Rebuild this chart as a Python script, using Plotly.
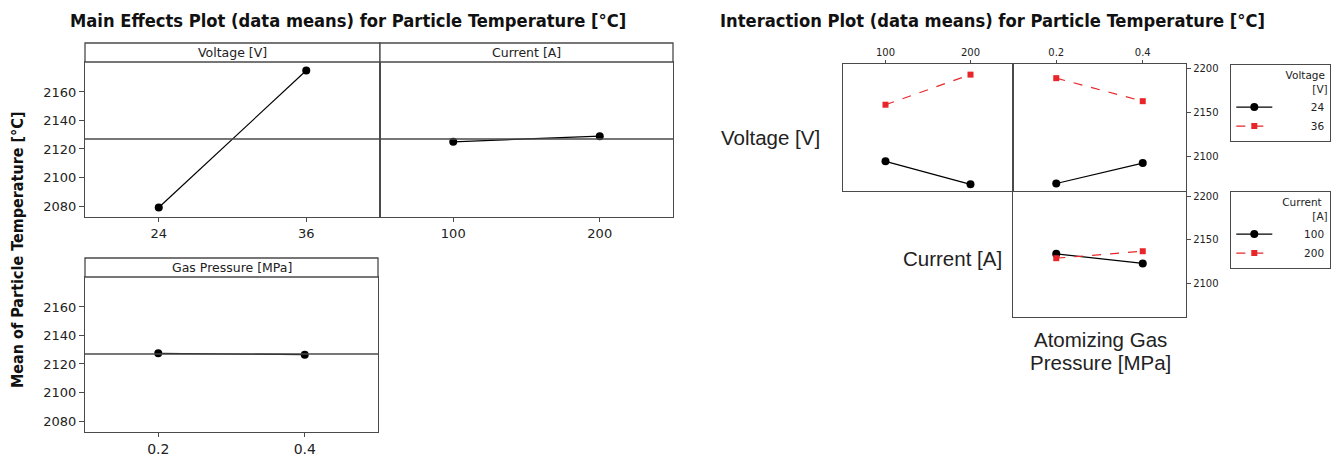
import plotly.graph_objects as go

W, H = 1340, 459

# ---------------- data ----------------
volt_levels = ["24", "36"]
volt_means = [2079, 2175]
curr_levels = ["100", "200"]
curr_means = [2125, 2129]
pres_levels = ["0.2", "0.4"]
pres_means = [2127.5, 2126.5]

main_yticks = [2080, 2100, 2120, 2140, 2160]
inter_yticks = [2100, 2150, 2200]

# interaction means
vc_24 = [2095, 2069]   # voltage 24 over current 100, 200
vc_36 = [2159, 2193]   # voltage 36 over current 100, 200
vp_24 = [2070, 2093]   # voltage 24 over pressure 0.2, 0.4
vp_36 = [2189, 2163]
cp_100 = [2134, 2123]  # current 100 over pressure 0.2, 0.4
cp_200 = [2129, 2137]

grand_mean = sum(volt_means) / len(volt_means)

# ---------------- style ----------------
FRAME = "#4a4a4a"
RED = "#e8262a"
TICKF = "DejaVu Sans, sans-serif"
BOLDF = "DejaVu Sans Condensed, DejaVu Sans, sans-serif"
ARIAL = "Liberation Sans, Arial, sans-serif"
NB = "\u00a0"


def dx(a, b):
    return [a / W, b / W]


def dy(top, bottom):
    return [1 - bottom / H, 1 - top / H]


def legend_label(s, width=7):
    # right-align legend entries using figure spaces (digit width)
    return "\u2007" * (width - len(s)) + s


fig = go.Figure()

# main effects panels
main_kw = dict(mode="lines+markers", line=dict(color="black", width=1.2),
               marker=dict(color="black", size=8), showlegend=False)
fig.add_trace(go.Scatter(x=volt_levels, y=volt_means, xaxis="x", yaxis="y", **main_kw))
fig.add_trace(go.Scatter(x=curr_levels, y=curr_means, xaxis="x2", yaxis="y2", **main_kw))
fig.add_trace(go.Scatter(x=pres_levels, y=pres_means, xaxis="x3", yaxis="y3", **main_kw))

# interaction panels
black_kw = dict(mode="lines+markers", line=dict(color="black", width=1.2),
                marker=dict(color="black", size=8, symbol="circle"))
red_kw = dict(mode="lines+markers", line=dict(color=RED, width=1.2, dash="dash"),
              marker=dict(color=RED, size=6, symbol="square"))

fig.add_trace(go.Scatter(x=curr_levels, y=vc_24, name=legend_label(volt_levels[0]),
                         xaxis="x4", yaxis="y4", legend="legend", **black_kw))
fig.add_trace(go.Scatter(x=curr_levels, y=vc_36, name=legend_label(volt_levels[1]),
                         xaxis="x4", yaxis="y4", legend="legend", **red_kw))
fig.add_trace(go.Scatter(x=pres_levels, y=vp_24, name=volt_levels[0], xaxis="x5", yaxis="y5",
                         showlegend=False, **black_kw))
fig.add_trace(go.Scatter(x=pres_levels, y=vp_36, name=volt_levels[1], xaxis="x5", yaxis="y5",
                         showlegend=False, **red_kw))
fig.add_trace(go.Scatter(x=pres_levels, y=cp_100, name=legend_label(curr_levels[0]),
                         xaxis="x6", yaxis="y6", legend="legend2", **black_kw))
fig.add_trace(go.Scatter(x=pres_levels, y=cp_200, name=legend_label(curr_levels[1]),
                         xaxis="x6", yaxis="y6", legend="legend2", **red_kw))

main_yrange = [2072.3, 2181]
inter_yrange = [2061.5, 2205]

frame = dict(showline=True, mirror=True, linecolor=FRAME, linewidth=1.3,
             showgrid=False, zeroline=False)

xmain = dict(type="category", range=[-0.5, 1.5], ticks="outside", ticklen=4,
             tickcolor=FRAME, tickfont=dict(family=TICKF, size=13, color="#222"),
             **frame)
ymain = dict(range=main_yrange, tickvals=main_yticks, ticks="outside", ticklen=5,
             tickcolor=FRAME, tickfont=dict(family=TICKF, size=13, color="#222"),
             **frame)

layout = dict(
    width=W, height=H,
    margin=dict(l=0, r=0, t=0, b=0, autoexpand=False),
    paper_bgcolor="white", plot_bgcolor="white",
    xaxis=dict(domain=dx(85, 380), anchor="y", **xmain),
    yaxis=dict(domain=dy(62, 217), anchor="x", **ymain),
    xaxis2=dict(domain=dx(380, 673), anchor="y2", **xmain),
    yaxis2=dict(domain=dy(62, 217), anchor="x2",
                **{**ymain, "showticklabels": False, "ticks": ""}),
    xaxis3=dict(domain=dx(85, 378), anchor="y3",
                **{**xmain, "tickfont": dict(family=TICKF, size=14, color="#222")}),
    yaxis3=dict(domain=dy(277, 432), anchor="x3", **ymain),
)

xint = dict(type="category", range=[-0.5, 1.5], ticks="outside", ticklen=3,
            tickcolor=FRAME, tickfont=dict(family=TICKF, size=10, color="#222"),
            **frame)
yint = dict(range=inter_yrange, tickvals=inter_yticks, ticks="outside", ticklen=4,
            tickcolor=FRAME, tickfont=dict(family=TICKF, size=10, color="#222"),
            **frame)

layout.update(
    xaxis4=dict(domain=dx(843, 1013), anchor="y4", side="top", **xint),
    yaxis4=dict(domain=dy(64, 191), anchor="x4",
                **{**yint, "showticklabels": False, "ticks": ""}),
    xaxis5=dict(domain=dx(1013, 1186), anchor="y5", side="top", **xint),
    yaxis5=dict(domain=dy(64, 191), anchor="x5", side="right", **yint),
    xaxis6=dict(domain=dx(1013, 1186), anchor="y6",
                **{**xint, "showticklabels": False, "ticks": ""}),
    yaxis6=dict(domain=dy(192, 317), anchor="x6", side="right", **yint),
)

leg_common = dict(xanchor="left", yanchor="top", bgcolor="white",
                  bordercolor=FRAME, borderwidth=1.3,
                  font=dict(family=TICKF, size=10.5, color="#222"),
                  itemwidth=36, tracegroupgap=0)
layout["legend"] = dict(x=1230 / W, y=1 - 64 / H,
                        title=dict(text="Voltage<br>" + NB * 8 + "[V]", side="top right",
                                   font=dict(family=TICKF, size=10.5)),
                        **leg_common)
layout["legend2"] = dict(x=1230 / W, y=1 - 191 / H,
                         title=dict(text="Current<br>" + NB * 9 + "[A]", side="top right",
                                    font=dict(family=TICKF, size=10.5)),
                         **leg_common)

fig.update_layout(**layout)

# strips above main effects panels and grand-mean reference lines
strip_h = 19 / 155
for ax, label in [("x", "Voltage [V]"), ("x2", "Current [A]"), ("x3", "Gas Pressure [MPa]")]:
    yax = "y" if ax == "x" else "y" + ax[1:]
    fig.add_shape(type="rect", xref=f"{ax} domain", yref=f"{yax} domain",
                  x0=0, x1=1, y0=1, y1=1 + strip_h,
                  line=dict(color=FRAME, width=1.3), fillcolor="white")
    fig.add_annotation(text=label, xref=f"{ax} domain", yref=f"{yax} domain",
                       x=0.5, y=1 + strip_h / 2, xanchor="center", yanchor="middle",
                       showarrow=False, font=dict(family=TICKF, size=12.5, color="#222"))
    fig.add_shape(type="line", xref=f"{ax} domain", yref=yax,
                  x0=0, x1=1, y0=grand_mean, y1=grand_mean,
                  line=dict(color=FRAME, width=1.3))

# titles
fig.add_annotation(text="<b>Main Effects Plot (data means) for Particle Temperature [°C]</b>",
                   xref="paper", yref="paper", x=348 / W, y=1 - 20 / H,
                   xanchor="center", yanchor="middle", showarrow=False,
                   font=dict(family=BOLDF, size=18.2, color="#111"))
fig.add_annotation(text="<b>Interaction Plot (data means) for Particle Temperature [°C]</b>",
                   xref="paper", yref="paper", x=992 / W, y=1 - 20 / H,
                   xanchor="center", yanchor="middle", showarrow=False,
                   font=dict(family=BOLDF, size=18.2, color="#111"))
fig.add_annotation(text="<b>Mean of Particle Temperature [°C]</b>", textangle=-90,
                   xref="paper", yref="paper", x=17 / W, y=1 - 250 / H,
                   xanchor="center", yanchor="middle", showarrow=False,
                   font=dict(family=BOLDF, size=16, color="#111"))

# interaction row / column labels
fig.add_annotation(text="Voltage [V]", xref="paper", yref="paper",
                   x=822 / W, y=1 - 137 / H, xanchor="right", yanchor="middle",
                   showarrow=False, font=dict(family=ARIAL, size=20.5, color="#222"))
fig.add_annotation(text="Current [A]", xref="paper", yref="paper",
                   x=1004 / W, y=1 - 258 / H, xanchor="right", yanchor="middle",
                   showarrow=False, font=dict(family=ARIAL, size=20.5, color="#222"))
fig.add_annotation(text="Atomizing Gas", xref="paper", yref="paper",
                   x=1100 / W, y=1 - 339 / H, xanchor="center", yanchor="middle",
                   showarrow=False, font=dict(family=ARIAL, size=20.5, color="#222"))
fig.add_annotation(text="Pressure [MPa]", xref="paper", yref="paper",
                   x=1100 / W, y=1 - 362 / H, xanchor="center", yanchor="middle",
                   showarrow=False, font=dict(family=ARIAL, size=20.5, color="#222"))

fig.write_html("out.html")
